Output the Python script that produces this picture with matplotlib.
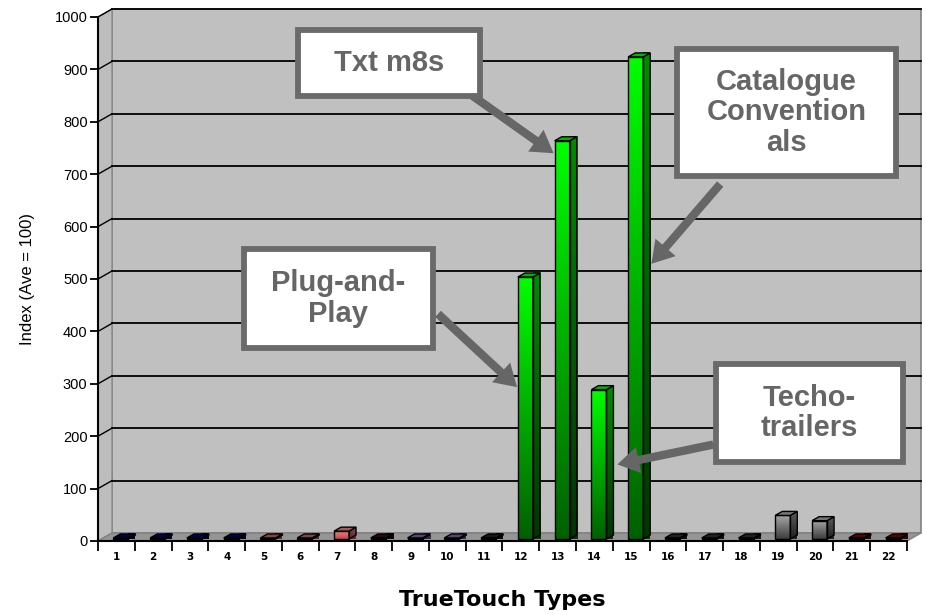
import numpy as np
import matplotlib
matplotlib.use("Agg")
import matplotlib.pyplot as plt
from matplotlib.patches import Polygon, Rectangle, FancyArrowPatch, ArrowStyle
from matplotlib.colors import LinearSegmentedColormap, to_rgb

# ---- data -------------------------------------------------------------
categories = [str(i) for i in range(1, 23)]
values = [2, 2, 2, 2, 2, 2, 15, 2, 2, 2, 2, 500, 760, 285, 920, 2, 2, 2, 45, 35, 2, 2]
colors_top = ["#000070", "#000070", "#000070", "#000070", "#c06060", "#c06060",
              "#f08080", "#301010", "#8060b0", "#8060b0", "#202020",
              "#00ff00", "#00ff00", "#00ff00", "#00ff00",
              "#303030", "#303030", "#303030", "#a8a8a8", "#a8a8a8",
              "#800000", "#800000"]
colors_bottom = ["#000050", "#000050", "#000050", "#000050", "#a04040", "#a04040",
                 "#c04848", "#200808", "#604090", "#604090", "#101010",
                 "#006000", "#006000", "#006000", "#006000",
                 "#202020", "#202020", "#202020", "#3c3c3c", "#3c3c3c",
                 "#600000", "#600000"]
yticks = list(range(0, 1001, 100))
annotations = [
    ("Txt m8s", (298, 30, 480, 96), (470, 94), (12.95, 737)),
    ("Catalogue\nConvention\nals", (677, 49, 896, 176), (722, 182), (15.5, 525)),
    ("Plug-and-\nPlay", (244, 249, 433, 348), (436, 312), (11.95, 290)),
    ("Techo-\ntrailers", (716, 364, 903, 462), (716, 444), (14.55, 145)),
]

W, H = 926, 615
fig = plt.figure(figsize=(W / 100, H / 100), dpi=100)
fig.patch.set_facecolor("white")

ax_l, ax_r, ax_t, ax_b = 98, 907, 17, 541
ax = fig.add_axes([ax_l / W, 1 - ax_b / H, (ax_r - ax_l) / W, (ax_b - ax_t) / H])
xmin, xmax, ymin, ymax = 0.5, 22.5, 0, 1000
ax.set_xlim(xmin, xmax)
ax.set_ylim(ymin, ymax)
ax.set_facecolor("none")

# depth of the 3-D box in data units
px_x = (ax_r - ax_l) / (xmax - xmin)
px_y = (ax_b - ax_t) / (ymax - ymin)
DX = 14 / px_x
DY = 8 / px_y

# back wall, left wall and floor
wall = Polygon([(xmin + DX, DY), (xmax + DX, DY), (xmax + DX, ymax + DY), (xmin + DX, ymax + DY)],
               closed=True, facecolor="#c0c0c0", edgecolor="#808080", lw=1.2, zorder=0, clip_on=False)
ax.add_patch(wall)
side = Polygon([(xmin, 0), (xmin + DX, DY), (xmin + DX, ymax + DY), (xmin, ymax)],
               closed=True, facecolor="#bdbdbd", edgecolor="#8a8a8a", lw=1.0, zorder=0.5, clip_on=False)
ax.add_patch(side)
floor = Polygon([(xmin, 0), (xmax, 0), (xmax + DX, DY), (xmin + DX, DY)],
                closed=True, facecolor="#959595", edgecolor="#808080", lw=1.0, zorder=0.6, clip_on=False)
ax.add_patch(floor)

# gridlines on the back wall plus connectors on the left wall
for v in yticks[1:]:
    ax.plot([xmin + DX, xmax + DX], [v + DY, v + DY], color="black", lw=1.3, zorder=1, clip_on=False)
    ax.plot([xmin, xmin + DX], [v, v + DY], color="black", lw=1.0, zorder=1, clip_on=False)


def darker(c, f):
    r, g, b = to_rgb(c)
    return (r * f, g * f, b * f)


# bars with a 3-D look
bw = 15 / px_x
off_x = 4.5 / px_x
base = 0.25 * DY
sdx = 7 / px_x
sdy = 4 / px_y
for i, v in enumerate(values):
    c = i + 1
    x0 = c - bw / 2 + off_x
    x1 = x0 + bw
    y0 = base
    y1 = base + v
    cmap = LinearSegmentedColormap.from_list("f", [colors_bottom[i], colors_top[i]])
    grad = np.linspace(0, 1, 256).reshape(-1, 1)
    im = ax.imshow(grad, extent=(x0, x1, y0, y1), origin="lower", cmap=cmap,
                   aspect="auto", interpolation="bilinear", zorder=3, clip_on=False)
    front = Rectangle((x0, y0), bw, v, facecolor="none", edgecolor="black", lw=1.0, zorder=3.2)
    ax.add_patch(front)
    im.set_clip_path(front)
    sc = LinearSegmentedColormap.from_list("s", [darker(colors_bottom[i], 0.55), darker(colors_top[i], 0.55)])
    side_poly = Polygon([(x1, y0), (x1 + sdx, y0 + sdy), (x1 + sdx, y1 + sdy), (x1, y1)],
                        closed=True, facecolor="none", edgecolor="black", lw=1.0, zorder=3.2)
    ax.add_patch(side_poly)
    im2 = ax.imshow(grad, extent=(x1, x1 + sdx, y0, y1 + sdy), origin="lower", cmap=sc,
                    aspect="auto", interpolation="bilinear", zorder=3, clip_on=False)
    im2.set_clip_path(side_poly)
    top_poly = Polygon([(x0, y1), (x0 + sdx, y1 + sdy), (x1 + sdx, y1 + sdy), (x1, y1)],
                       closed=True, facecolor=darker(colors_top[i], 0.7), edgecolor="black",
                       lw=1.0, zorder=3.3)
    ax.add_patch(top_poly)

ax.set_xlim(xmin, xmax)
ax.set_ylim(ymin, ymax)

# axes, ticks, labels
for s in ("top", "right"):
    ax.spines[s].set_visible(False)
for s in ("left", "bottom"):
    ax.spines[s].set_color("black")
    ax.spines[s].set_linewidth(1.5)
    ax.spines[s].set_zorder(5)
ax.set_yticks(yticks)
ax.set_yticklabels([str(t) for t in yticks], fontsize=10.5, family="Liberation Sans")
ax.tick_params(axis="y", direction="out", length=6, width=1.3, pad=1.5)
ax.set_xticks(np.arange(xmin, xmax + 0.01, 1.0))
ax.set_xticklabels([])
ax.set_xticks(np.arange(1, 23), minor=True)
ax.set_xticklabels(categories, minor=True, fontsize=7.5, fontweight="bold", family="DejaVu Sans")
ax.tick_params(axis="x", which="major", direction="out", length=7, width=1.3)
ax.tick_params(axis="x", which="minor", length=0, pad=8)
ax.set_ylabel("Index (Ave = 100)", fontsize=12, family="Liberation Sans", labelpad=14)
ax.set_xlabel("TrueTouch Types", fontsize=16, fontweight="bold", family="DejaVu Sans", labelpad=20)


# callout boxes with arrows
def fig_xy(px, py):
    return px / W, 1 - py / H


for text, (bx0, by0, bx1, by1), tail, tip in annotations:
    fx0, fy1 = fig_xy(bx0, by0)
    fx1, fy0 = fig_xy(bx1, by1)
    box = Rectangle((fx0, fy0), fx1 - fx0, fy1 - fy0, transform=fig.transFigure,
                    facecolor="white", edgecolor="#6a6a6a", lw=4.2, zorder=10)
    fig.patches.append(box)
    fig.text((fx0 + fx1) / 2, (fy0 + fy1) / 2, text, ha="center", va="center",
             fontsize=21, fontweight="bold", color="#666666", family="Liberation Sans",
             linespacing=1.1, zorder=11)
    tx, ty = fig_xy(*tail)
    arr = FancyArrowPatch(posA=fig.transFigure.transform((tx, ty)),
                          posB=ax.transData.transform(tip), transform=None,
                          arrowstyle=ArrowStyle.Simple(head_length=1.3, head_width=1.6, tail_width=0.5),
                          mutation_scale=12, color="#666666", lw=0, zorder=9)
    fig.patches.append(arr)

fig.savefig("out.png", dpi=100, facecolor="white")
